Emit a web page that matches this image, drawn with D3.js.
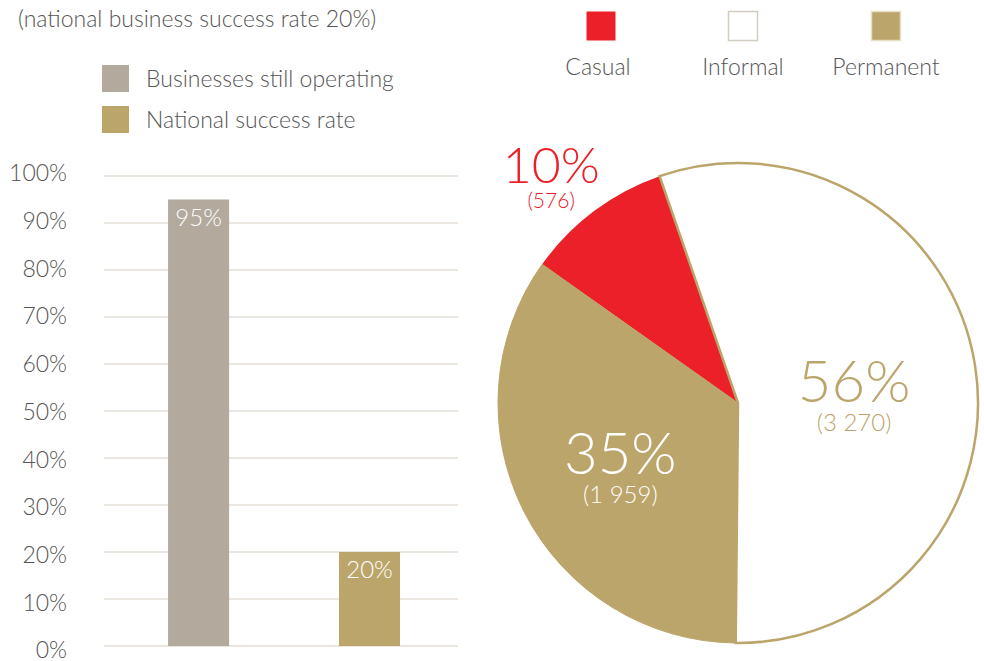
<!DOCTYPE html>
<html>
<head>
<meta charset="utf-8">
<script src="https://cdn.jsdelivr.net/npm/d3@7"></script>
<style>
  body { margin: 0; background: #fff; }
  svg text { font-family: Lato, "Open Sans", sans-serif; font-weight: 300; }
</style>
</head>
<body>
<script>
// bar chart data
var barNames = ["Businesses still operating", "National success rate"];
var barValues = [95, 20];
var barColors = ["#b3a99c", "#bca56a"];
var yTicks = [0, 10, 20, 30, 40, 50, 60, 70, 80, 90, 100];

// pie data
var pieNames = ["Casual", "Informal", "Permanent"];
var pieCounts = [576, 3270, 1959];
var piePct = [10, 56, 35];
var pieColors = ["#ec2029", "#ffffff", "#bca56a"];

var width = 984, height = 661;
var textGrey = "#555";

var svg = d3.select("body").append("svg")
    .attr("width", width)
    .attr("height", height);

// title
svg.append("text")
    .attr("x", 18).attr("y", 27)
    .attr("fill", textGrey)
    .style("font-size", "23px")
    .text("(national business success rate 20%)");

// bar legend
var barLegend = svg.selectAll(".barleg")
    .data(barNames).enter().append("g")
    .attr("transform", (d, i) => `translate(102, ${65 + i * 41})`);
barLegend.append("rect")
    .attr("width", 27).attr("height", 27)
    .attr("fill", (d, i) => barColors[i]);
barLegend.append("text")
    .attr("x", 44).attr("y", 22)
    .attr("fill", textGrey)
    .style("font-size", "23px")
    .text(d => d);

// bar chart
var y = d3.scaleLinear().domain([0, 100]).range([646, 176]);
var x = d3.scaleBand().domain(barNames).range([104, 458])
    .paddingInner(0.643).paddingOuter(0.357).align(0.525);

svg.append("g").selectAll("line")
    .data(yTicks).enter().append("line")
    .attr("x1", 104).attr("x2", 458)
    .attr("y1", d => y(d)).attr("y2", d => y(d))
    .attr("stroke", "#ebe6e0").attr("stroke-width", 2);

var yAxis = svg.append("g")
    .attr("transform", "translate(70,0)")
    .call(d3.axisLeft(y).tickValues(yTicks).tickSize(0).tickPadding(3).tickFormat(d => d + "%"));
yAxis.select(".domain").remove();
yAxis.selectAll("text")
    .attr("fill", textGrey)
    .style("font-size", "23px")
    .attr("y", d => -2.5 + (100 - d) * 0.07);

svg.selectAll(".bar")
    .data(barValues).enter().append("rect")
    .attr("x", (d, i) => x(barNames[i]))
    .attr("width", x.bandwidth())
    .attr("y", d => y(d))
    .attr("height", d => y(0) - y(d))
    .attr("fill", (d, i) => barColors[i]);

svg.selectAll(".barlab")
    .data(barValues).enter().append("text")
    .attr("x", (d, i) => x(barNames[i]) + x.bandwidth() / 2)
    .attr("y", d => y(d) + 26)
    .attr("text-anchor", "middle")
    .attr("fill", "#fff")
    .style("font-size", "24px")
    .text(d => d + "%");

// pie legend
var pieLegX = [601, 743, 886];
var pieLegend = svg.selectAll(".pieleg")
    .data(pieNames).enter().append("g")
    .attr("transform", (d, i) => `translate(${pieLegX[i]}, 0)`);
pieLegend.append("rect")
    .attr("x", -14.5).attr("y", 11.5)
    .attr("width", 29).attr("height", 29)
    .attr("fill", (d, i) => pieColors[i])
    .attr("stroke", (d, i) => i == 0 ? "none" : (i == 1 ? "#d3ccc0" : "#e8dfc6"))
    .attr("stroke-width", 1.5);
pieLegend.append("text")
    .attr("x", (d, i) => i == 0 ? -3 : 0)
    .attr("y", 75)
    .attr("text-anchor", "middle")
    .attr("fill", textGrey)
    .style("font-size", "23px")
    .text(d => d);

// pie (slices follow the printed percentages)
var cx = 738, cy = 403, R = 240;
var start = -54.7 * Math.PI / 180;
var pie = d3.pie().sort(null).startAngle(start).endAngle(start + 2 * Math.PI);
var arcs = pie(piePct);
var arc = d3.arc().innerRadius(0).outerRadius(R);

var pieG = svg.append("g").attr("transform", `translate(${cx},${cy})`);
pieG.selectAll("path")
    .data(arcs).enter().append("path")
    .attr("d", arc)
    .attr("fill", (d, i) => pieColors[i])
    .attr("stroke", (d, i) => i == 0 ? "none" : "#bca56a")
    .attr("stroke-width", 1)
    .attr("stroke-linejoin", "round");
// informal border on top
pieG.append("path")
    .attr("d", arc(arcs[1]))
    .attr("fill", "none")
    .attr("stroke", "#bca56a")
    .attr("stroke-width", 2.5);

var labelR = [299, 117, 131];
var labelShift = [-1.8, 2.2, 1];
var labelCol = ["#ec2029", "#bca56a", "#fff"];
var bigSize = [50, 58, 58];
var smallSize = [21, 24, 24];
var fmt = d3.formatLocale({ decimal: ".", thousands: " ", grouping: [3], currency: ["", ""] }).format(",");

var labs = pieG.selectAll(".plab")
    .data(arcs).enter().append("g")
    .attr("transform", (d, i) => {
        var a = (d.startAngle + d.endAngle) / 2 + labelShift[i] * Math.PI / 180;
        return `translate(${labelR[i] * Math.sin(a)},${-labelR[i] * Math.cos(a)})`;
    })
    .attr("fill", (d, i) => labelCol[i]);
labs.append("text")
    .attr("text-anchor", "middle")
    .attr("y", 13)
    .style("font-size", (d, i) => bigSize[i] + "px")
    .text((d, i) => piePct[i] + "%");
labs.append("text")
    .attr("text-anchor", "middle")
    .attr("y", (d, i) => i == 0 ? 38 : 42)
    .style("font-size", (d, i) => smallSize[i] + "px")
    .text((d, i) => "(" + fmt(pieCounts[i]) + ")");
</script>
</body>
</html>
